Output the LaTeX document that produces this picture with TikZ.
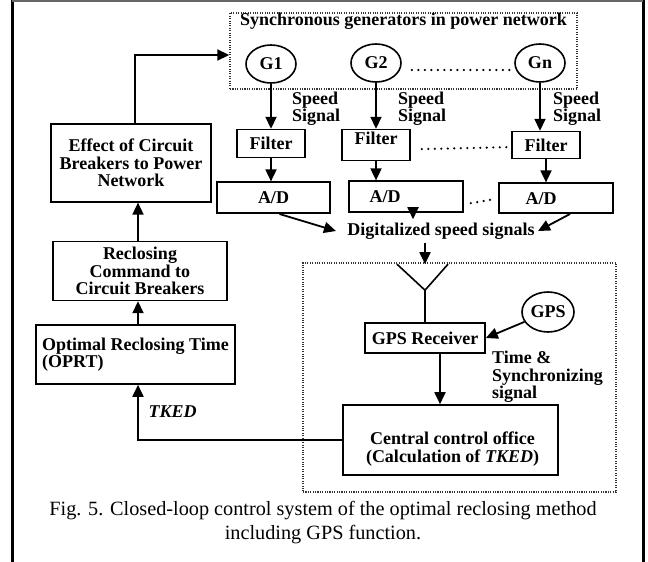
\documentclass[tikz,border=0pt]{standalone}
\usepackage{fontspec}
\setmainfont{Liberation Serif}
\usetikzlibrary{
    arrows.meta,
    positioning,
    calc,
    shapes.geometric
}

\begin{document}
\begin{tikzpicture}[
        x=1pt, y=-1pt,
        every node/.style={font=\fontsize{18}{17.5}\selectfont\bfseries},
        block/.style={
            rectangle,
            draw=black,
            line width=1.6pt,
            align=center,
            inner sep=2pt
        },
        gen/.style={
            ellipse,
            draw=black,
            line width=1.6pt,
            minimum width=50pt,
            minimum height=38pt,
            inner sep=0pt
        },
        dotbox/.style={rectangle, draw=black!80, line width=1.4pt, dash pattern=on 1.1pt off 1.3pt, inner sep=0pt},
        arrow/.style={
            -{Triangle[length=12pt,width=11pt]},
            line width=1.8pt,
            draw=black
        },
        dotrow/.style={line width=2.4pt, line cap=round, dash pattern=on 0pt off 6.5pt},
        note/.style={align=left, inner sep=0pt}
    ]
        \useasboundingbox (0,0) rectangle (648,562);
        % Page frame
        \draw[line width=3pt] (12,0) -- (12,562);
        \draw[line width=3pt] (643,0) -- (643,562);
        \draw[line width=1.5pt, draw=black!60] (12,0.75) -- (643,0.75);

        % Generators and speed measurement
        \node[dotbox, minimum width=347pt, minimum height=76pt] (genbox) at (403.5,51) {};
        \node[below=0pt of genbox.north, inner sep=1pt] (gentitle)
            {Synchronous generators in power network};
        \node[gen] (g1) at (271,64) {G1};
        \node[gen] (g2) at (376,63) {G2};
        \node[gen] (gn) at (540,63) {Gn};

        \node[block, minimum width=68pt, minimum height=28pt, below=45pt of g1] (f1) {Filter};
        \node[block, minimum width=68pt, minimum height=29pt, below=46pt of g2] (f2) {Filter\\[-3pt]};
        \node[block, minimum width=68pt, minimum height=27pt, below=48pt of gn, xshift=6pt] (fn) {Filter};

        \node[block, minimum width=113pt, minimum height=31pt, below=23pt of f1, xshift=2.5pt] (ad1) {A/D};
        \node[block, minimum width=114pt, minimum height=31pt, below=19pt of f2, xshift=30pt] (ad2) {A/D\hspace*{42pt}};
        \node[block, minimum width=114pt, minimum height=30pt, below=23pt of fn, xshift=10pt] (adn) {A/D\hspace*{30pt}};

        \node[note, anchor=west] (sp1) at (292,108.5) {Speed\\Signal};
        \node[note, anchor=west] (sp2) at (398,108.5) {Speed\\Signal};
        \node[note, anchor=west] (spn) at (553,108.5) {Speed\\Signal};

        \draw[arrow] (g1) -- (g1 |- f1.north);
        \draw[arrow] (g2) -- (g2 |- f2.north);
        \draw[arrow] (gn) -- (gn |- fn.north);
        \draw[arrow] (f1) -- (f1 |- ad1.north);
        \draw[arrow] (f2) -- (f2 |- ad2.north);
        \draw[arrow] (fn) -- (fn |- adn.north);

        \draw[dotrow] ($(g2.east)+(10,7)$) -- ($(gn.west)+(-3,7)$);
        \draw[dotrow] ($(f2.east)+(11,4)$) -- ($(fn.west)+(-2,2)$);
        \draw[dotrow] ($(ad2.east)+(7,6.5)$) -- ($(adn.west)+(-4,1)$);

        \node (digi) at (441,231) {Digitalized speed signals};
        \draw[arrow] ([xshift=6pt]ad1.south) -- ([xshift=-8pt]digi.west);
        \draw[arrow] ([xshift=7pt]ad2.south) -- ([xshift=7pt]ad2.south |- digi.north);
        \draw[arrow] ([xshift=14pt]adn.south) -- (digi.east);

        % Central control with GPS
        \node[dotbox, minimum width=313pt, minimum height=229pt] (ccbox) at (459.5,377.5) {};
        \node[block, minimum width=120pt, minimum height=30pt] (rcv) at (425,338) {GPS Receiver};
        \coordinate[above=32pt of rcv.north] (apex);
        \coordinate (anttop) at ($(apex)+(0,-26)$);
        \draw[line width=1.6pt] ($(apex)+(-28,-26)$) -- (apex) -- ($(apex)+(23,-26)$);
        \draw[line width=1.8pt] (apex) -- (rcv.north);
        \draw[arrow] (digi.south -| apex) -- (anttop);

        \node[gen, minimum width=52pt, minimum height=40pt] (gps) at (548,312) {GPS};
        \draw[arrow] (gps) -- (rcv.east);
        \node[note, anchor=north west] (sync) at (492,351) {Time \&\\Synchronizing\\signal};

        \node[block, minimum width=215pt, minimum height=70pt] (cco) at (450.5,440) {};
        \node[align=center, inner sep=0pt] (ccotext) at ($(cco)+(2,9)$)
            {Central control office\\(Calculation of \textit{TKED})};
        \draw[arrow] ([xshift=15pt]rcv.south) -- ([xshift=15pt]rcv.south |- cco.north);

        % Reclosing loop
        \node[block, minimum width=199pt, minimum height=59pt, align=left] (oprt) at (135.5,354.5)
            {Optimal Reclosing Time\\(OPRT)};
        \node[block, minimum width=174pt, minimum height=59pt, above=23pt of oprt, xshift=4.5pt] (recl)
            {Reclosing\\Command to\\Circuit Breakers};
        \node[block, minimum width=160pt, minimum height=78pt, above=38pt of recl, xshift=-9pt] (eff)
            {Effect of Circuit\\Breakers to Power\\Network};

        \draw[arrow] ([xshift=2.5pt]oprt.north) -- ([xshift=2.5pt]oprt.north |- recl.south);
        \draw[arrow] ([xshift=-2pt]recl.north) -- ([xshift=-2pt]recl.north |- eff.south);
        \draw[arrow] ([xshift=4pt]eff.north) |- ([yshift=-4pt]genbox.west);
        \draw[arrow] (cco.west) -| ([xshift=2.5pt]oprt.south);
        \node[anchor=west, font=\fontsize{18}{17.5}\selectfont\bfseries\itshape] (tked) at (145,412) {TKED};

        \node[font=\fontsize{20.25}{24}\selectfont, align=center] (caption) at (323,523)
            {Fig. 5. Closed-loop control system of the optimal reclosing method\\including GPS function.};
\end{tikzpicture}
\end{document}
